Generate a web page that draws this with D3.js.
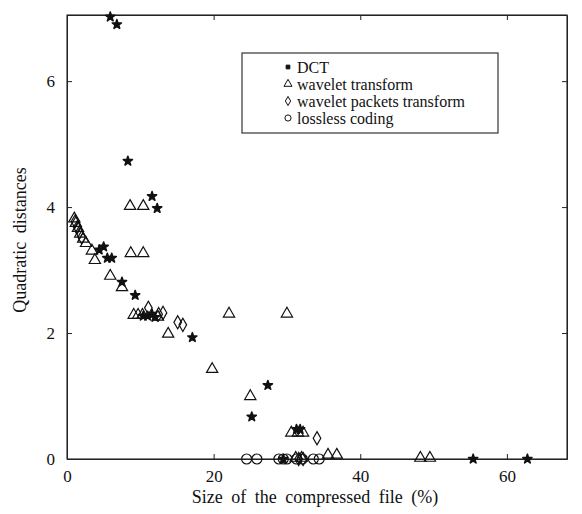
<!DOCTYPE html>
<html>
<head>
<meta charset="utf-8">
<script src="https://cdn.jsdelivr.net/npm/d3@7"></script>
<style>
  body { margin: 0; background: #fff; }
</style>
</head>
<body>
<script>
// values: [size of compressed file %, quadratic distance]
const dct = [
  [5.9, 7.02], [6.8, 6.9], [8.3, 4.73], [11.6, 4.17], [12.3, 3.98],
  [4.4, 3.32], [5.0, 3.37], [5.5, 3.19], [6.1, 3.19], [7.5, 2.81],
  [9.3, 2.6], [10.4, 2.27], [11.0, 2.27], [11.6, 2.3], [12.0, 2.25],
  [17.1, 1.93], [27.4, 1.17], [25.2, 0.67], [31.3, 0.47], [31.8, 0.47],
  [29.5, 0], [55.4, 0], [62.8, 0]
];
const wavelet = [
  [1.0, 3.8], [1.2, 3.73], [1.5, 3.65], [1.8, 3.56], [2.2, 3.48],
  [2.6, 3.41], [3.4, 3.29], [3.8, 3.14], [5.9, 2.89], [7.5, 2.71],
  [8.6, 4.0], [10.4, 4.0], [8.7, 3.25], [10.4, 3.25],
  [9.1, 2.27], [9.7, 2.27], [10.3, 2.27], [12.4, 2.24], [13.8, 1.97],
  [19.8, 1.41], [22.1, 2.29], [30.0, 2.29], [25.0, 0.98],
  [30.6, 0.4], [31.5, 0.4], [32.2, 0.4], [35.6, 0.05], [36.8, 0.05],
  [31.2, 0], [32.0, 0], [48.2, 0], [49.5, 0]
];
const packets = [
  [1.1, 3.77], [1.4, 3.68], [1.7, 3.6], [2.0, 3.52],
  [11.1, 2.4], [12.5, 2.3], [13.1, 2.32], [15.1, 2.17], [15.8, 2.13],
  [34.1, 0.33], [31.6, 0], [32.2, 0]
];
const lossless = [
  [24.5, 0], [25.9, 0], [28.9, 0], [29.5, 0], [30.0, 0],
  [31.3, 0], [32.1, 0], [33.6, 0], [34.4, 0]
];
const legendLabels = ["DCT", "wavelet transform", "wavelet packets transform", "lossless coding"];
const xTicks = [0, 20, 40, 60];
const yTicks = [0, 2, 4, 6];

const width = 582, height = 514;
const m = { left: 67, right: 567, top: 15, bottom: 459 };
const serif = '"Liberation Serif", "DejaVu Serif", serif';

const x = d3.scaleLinear().domain([0, 68.2]).range([m.left, m.right]);
const y = d3.scaleLinear().domain([0, 7.05]).range([m.bottom, m.top]);

const svg = d3.select("body").append("svg")
  .attr("width", width)
  .attr("height", height);

// frame
svg.append("rect")
  .attr("x", m.left).attr("y", m.top)
  .attr("width", m.right - m.left).attr("height", m.bottom - m.top)
  .attr("fill", "none").attr("stroke", "#222").attr("stroke-width", 1.1);

// axes, ticks pointing inward
const gx = svg.append("g").attr("transform", `translate(0,${m.bottom})`)
  .call(d3.axisBottom(x).tickValues(xTicks).tickFormat(d3.format("d"))
    .tickSizeInner(-5).tickSizeOuter(0).tickPadding(11));
const gy = svg.append("g").attr("transform", `translate(${m.left},0)`)
  .call(d3.axisLeft(y).tickValues(yTicks).tickFormat(d3.format("d"))
    .tickSizeInner(-5).tickSizeOuter(0).tickPadding(12));
const gt = svg.append("g").attr("transform", `translate(0,${m.top})`)
  .call(d3.axisTop(x).tickValues(xTicks).tickSizeInner(-5).tickSizeOuter(0).tickFormat(""));
const gr = svg.append("g").attr("transform", `translate(${m.right},0)`)
  .call(d3.axisRight(y).tickValues(yTicks).tickSizeInner(-5).tickSizeOuter(0).tickFormat(""));

[gx, gy, gt, gr].forEach(g => {
  g.attr("font-family", serif);
  g.select(".domain").attr("stroke", "#222");
  g.selectAll(".tick line").attr("stroke", "#222");
  g.selectAll(".tick text").style("font-size", "17px").attr("fill", "#111");
});

// axis titles
svg.append("text")
  .attr("x", 315).attr("y", 503)
  .attr("text-anchor", "middle")
  .attr("font-family", serif).attr("fill", "#111")
  .style("font-size", "18px").style("word-spacing", "4px")
  .text("Size of the compressed file (%)");

svg.append("text")
  .attr("transform", "translate(26,240) rotate(-90)")
  .attr("text-anchor", "middle")
  .attr("font-family", serif).attr("fill", "#111")
  .style("font-size", "18px").style("word-spacing", "4px")
  .text("Quadratic distances");

// markers
const star = d3.symbol().type(d3.symbolStar).size(26);
const tri = d3.symbol().type(d3.symbolTriangle).size(55);
const diamond = d3.symbol().type(d3.symbolDiamond).size(50);

svg.append("g").selectAll("circle").data(lossless).join("circle")
  .attr("cx", d => x(d[0])).attr("cy", d => y(d[1])).attr("r", 5)
  .attr("fill", "none").attr("stroke", "#111").attr("stroke-width", 1.2);

svg.append("g").selectAll("path").data(wavelet).join("path")
  .attr("d", tri)
  .attr("transform", d => `translate(${x(d[0])},${y(d[1]) - 1})`)
  .attr("fill", "none").attr("stroke", "#111").attr("stroke-width", 1.2);

svg.append("g").selectAll("path").data(packets).join("path")
  .attr("d", diamond)
  .attr("transform", d => `translate(${x(d[0])},${y(d[1])})`)
  .attr("fill", "none").attr("stroke", "#111").attr("stroke-width", 1.2);

svg.append("g").selectAll("path").data(dct).join("path")
  .attr("d", star)
  .attr("transform", d => `translate(${x(d[0])},${y(d[1])})`)
  .attr("fill", "#111").attr("stroke", "#111").attr("stroke-width", 1.6)
  .attr("stroke-linejoin", "round");

// legend
const lg = svg.append("g");
lg.append("rect")
  .attr("x", 242).attr("y", 53).attr("width", 256).attr("height", 80)
  .attr("fill", "#fff").attr("stroke", "#222").attr("stroke-width", 1.1);

const legendSymbols = [
  d3.symbol().type(d3.symbolSquare).size(14),
  d3.symbol().type(d3.symbolTriangle).size(28),
  d3.symbol().type(d3.symbolDiamond).size(24),
  d3.symbol().type(d3.symbolCircle).size(30)
];
const rows = lg.selectAll("g").data(legendLabels).join("g")
  .attr("transform", (d, i) => `translate(288,${67 + i * 17})`);
rows.append("path")
  .attr("d", (d, i) => legendSymbols[i]())
  .attr("fill", (d, i) => i === 0 ? "#111" : "none")
  .attr("stroke", "#111").attr("stroke-width", 1);
rows.append("text")
  .attr("x", 9).attr("dy", "0.35em")
  .attr("font-family", serif).attr("fill", "#111")
  .style("font-size", "16px")
  .text(d => d);
</script>
</body>
</html>
